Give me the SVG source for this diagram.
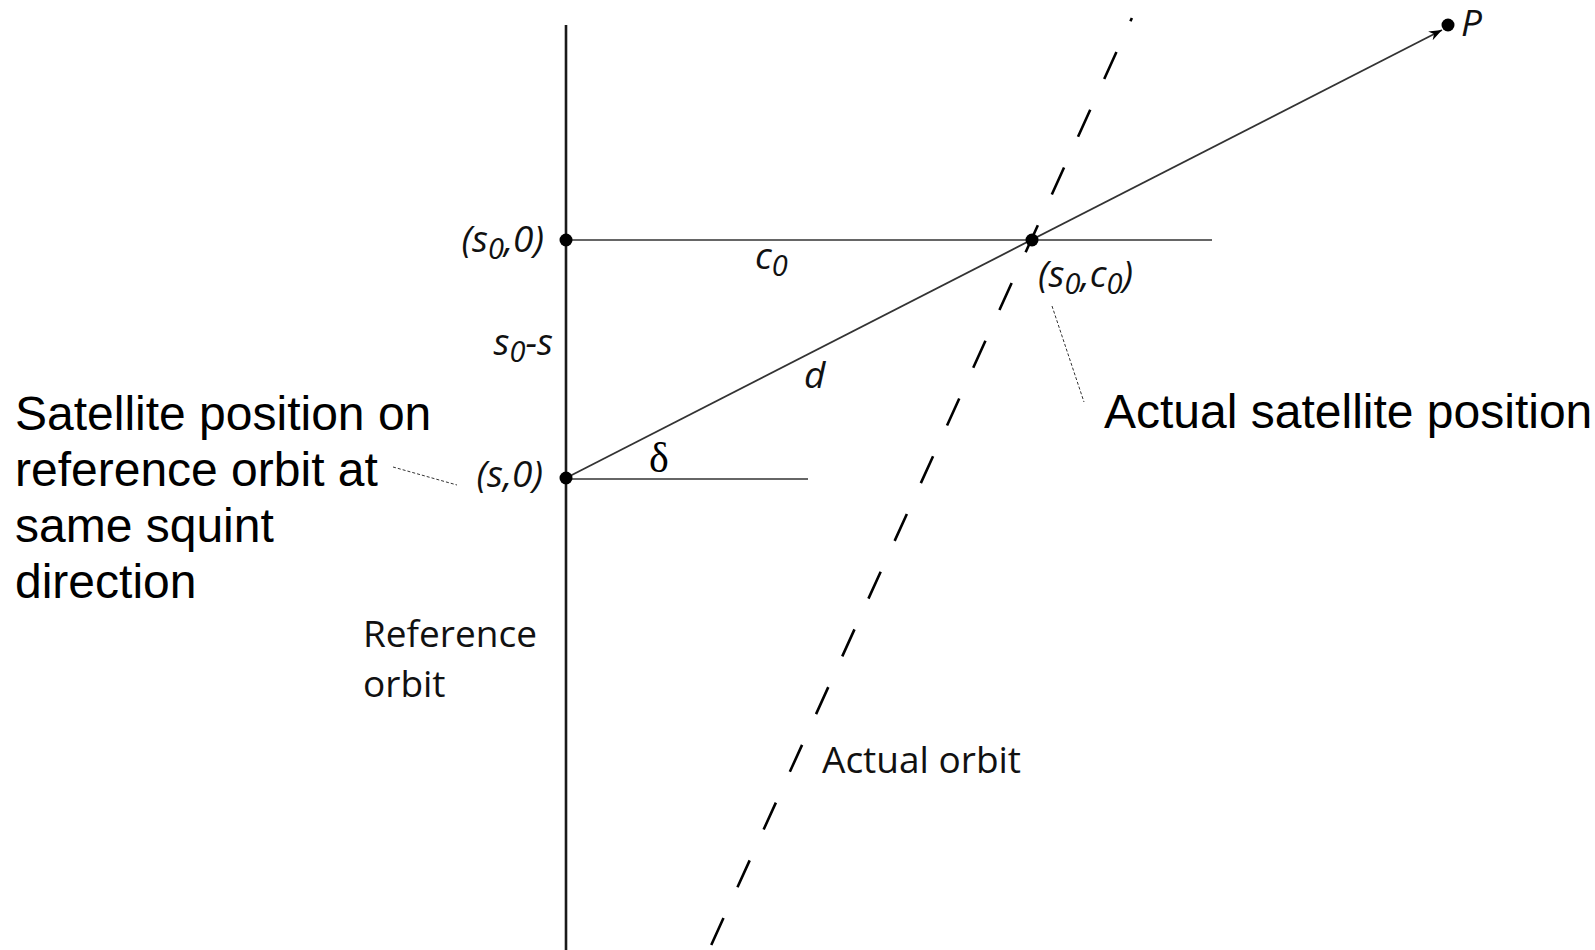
<svg xmlns="http://www.w3.org/2000/svg" width="1595" height="950" viewBox="0 0 1595 950">
<style>
.lbl{font-family:"Open Sans","Noto Sans",sans-serif;font-style:italic;font-size:37px;fill:#111}
.sub{font-size:29px}
.note{font-family:"Liberation Sans",Arial,sans-serif;font-size:48px;fill:#000}
.cap{font-family:"Open Sans","Noto Sans",sans-serif;font-size:37px;fill:#111}
.dot{fill:#000}
.hline{stroke:#666;stroke-width:2;fill:none}
.leader{stroke:#333;stroke-width:1;stroke-dasharray:3 2;fill:none}
</style>
<defs>
<marker id="arr" markerUnits="userSpaceOnUse" markerWidth="14" markerHeight="12" refX="13" refY="5" orient="auto">
<path d="M0,0 L13,5 L0,10 L4,5 z" fill="#000"/>
</marker>
</defs>
<rect width="1595" height="950" fill="#fff"/>
<g id="connectors">
<line id="reference-orbit-line" x1="566" y1="25" x2="566" y2="950" stroke="#1a1a1a" stroke-width="2.6"/>
<line id="actual-orbit-line" x1="1131.9" y1="18" x2="709" y2="950" stroke="#000" stroke-width="2.6" stroke-dasharray="29.6 33.8" stroke-dashoffset="26"/>
<line id="c0-line" class="hline" x1="566" y1="240" x2="1212" y2="240"/>
<line id="s-line" class="hline" x1="566" y1="479" x2="808" y2="479"/>
<line id="d-line" x1="566" y1="478" x2="1442" y2="30" stroke="#333" stroke-width="1.8" marker-end="url(#arr)"/>
<line id="leader-left" class="leader" x1="393" y1="467" x2="457" y2="485"/>
<line id="leader-right" class="leader" x1="1052" y1="306" x2="1084" y2="402"/>
</g>
<g id="node-s0-0">
<circle class="dot" cx="566" cy="240" r="6.5"/>
<text class="lbl" x="544" y="252" text-anchor="end">(s<tspan class="sub" dy="7">0</tspan><tspan dy="-7">,0)</tspan></text>
</g>
<g id="node-s-0">
<circle class="dot" cx="566" cy="478" r="6.5"/>
<text class="lbl" x="543" y="487" text-anchor="end">(s,0)</text>
</g>
<g id="node-s0-c0">
<circle class="dot" cx="1032" cy="240" r="6.5"/>
<text class="lbl" x="1038" y="287">(s<tspan class="sub" dy="7">0</tspan><tspan dy="-7">,c</tspan><tspan class="sub" dy="7">0</tspan><tspan dy="-7">)</tspan></text>
</g>
<g id="node-P">
<circle class="dot" cx="1448" cy="25" r="6.5"/>
<text class="lbl" x="1461" y="36">P</text>
</g>
<g id="labels">
<text class="lbl" x="755" y="269">c<tspan class="sub" dy="7">0</tspan></text>
<text class="lbl" x="553" y="355" text-anchor="end">s<tspan class="sub" dy="7">0</tspan><tspan dy="-7">-s</tspan></text>
<text class="lbl" x="804" y="388">d</text>
<text x="649" y="472" font-family="'Liberation Serif','Times New Roman',serif" font-size="42" fill="#000">δ</text>
<text class="cap" x="363" y="647">Reference</text>
<text class="cap" x="363" y="697">orbit</text>
<text class="cap" x="822" y="773">Actual orbit</text>
<text class="note" x="1104" y="428">Actual satellite position</text>
<text class="note" x="15" y="430">Satellite position on</text>
<text class="note" x="15" y="486">reference orbit at</text>
<text class="note" x="15" y="542">same squint</text>
<text class="note" x="15" y="598">direction</text>
</g>
</svg>
